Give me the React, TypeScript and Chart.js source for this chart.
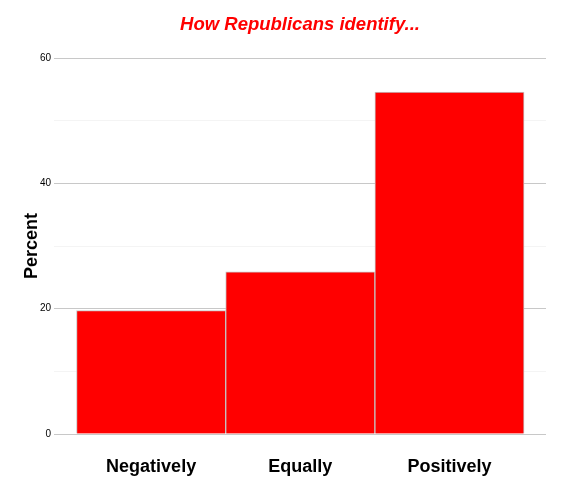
import React, { useEffect, useRef } from "react";
import { Chart, registerables } from "chart.js";

Chart.register(...registerables);

const categories: string[] = ["Negatively", "Equally", "Positively"];
const percentValues: number[] = [19.7, 25.9, 54.6];
const yTickStep = 10;
const yMax = 60;
const chartTitle = "How Republicans identify...";
const yAxisTitle = "Percent";

const FONT = "'Liberation Sans', Arial, Helvetica, sans-serif";

export default function App() {
  const canvasRef = useRef<HTMLCanvasElement | null>(null);

  useEffect(() => {
    if (!canvasRef.current) return;
    const chart = new Chart(canvasRef.current, {
      type: "bar",
      data: {
        datasets: [
          {
            data: categories.map((c, i) => ({ x: i, y: percentValues[i] })),
            backgroundColor: "#ff0000",
            borderColor: "#c4c4c4",
            borderWidth: 1,
            barPercentage: 1,
            categoryPercentage: 1,
          },
        ],
      },
      options: {
        animation: false,
        responsive: true,
        maintainAspectRatio: false,
        layout: { padding: { left: 13, right: 30, top: 0, bottom: 0 } },
        plugins: {
          legend: { display: false },
          tooltip: { enabled: false },
          title: {
            display: true,
            text: chartTitle,
            color: "#ff0000",
            fullSize: false,
            font: { family: FONT, size: 18.5, weight: "bold", style: "italic" },
            padding: { top: 6, bottom: 22 },
          },
        },
        scales: {
          x: {
            type: "linear",
            offset: false,
            min: -0.651,
            max: 2.647,
            grid: { display: false, offset: false },
            border: { display: false },
            afterBuildTicks: (axis: any) => {
              axis.ticks = categories.map((_, i) => ({ value: i }));
            },
            ticks: {
              color: "#000000",
              padding: 14,
              autoSkip: false,
              maxRotation: 0,
              font: { family: FONT, size: 18, weight: "bold" },
              callback: (v: any) => categories[Math.round(Number(v))] ?? "",
            },
            afterFit: (axis: any) => {
              axis.height = 62;
            },
          },
          y: {
            min: 0,
            max: yMax,
            grid: {
              drawTicks: false,
              color: (ctx: any) =>
                ctx.tick && ctx.tick.value % 20 === 0 ? "#c8c8c8" : "#f4f4f4",
              lineWidth: 1,
            },
            border: { display: false },
            ticks: {
              stepSize: yTickStep,
              color: "#000000",
              padding: 3,
              font: { family: FONT, size: 10 },
              callback: (v: any) => (Number(v) % 20 === 0 ? String(v) : ""),
            },
            title: {
              display: true,
              text: yAxisTitle,
              color: "#000000",
              font: { family: FONT, size: 18, weight: "bold" },
              padding: { top: 0, bottom: 0 },
            },
            afterFit: (axis: any) => {
              axis.width = 33;
            },
          },
        },
      },
    });
    return () => chart.destroy();
  }, []);

  return (
    <div style={{ width: 568, height: 488, position: "relative", background: "#ffffff" }}>
      <canvas ref={canvasRef} />
    </div>
  );
}
